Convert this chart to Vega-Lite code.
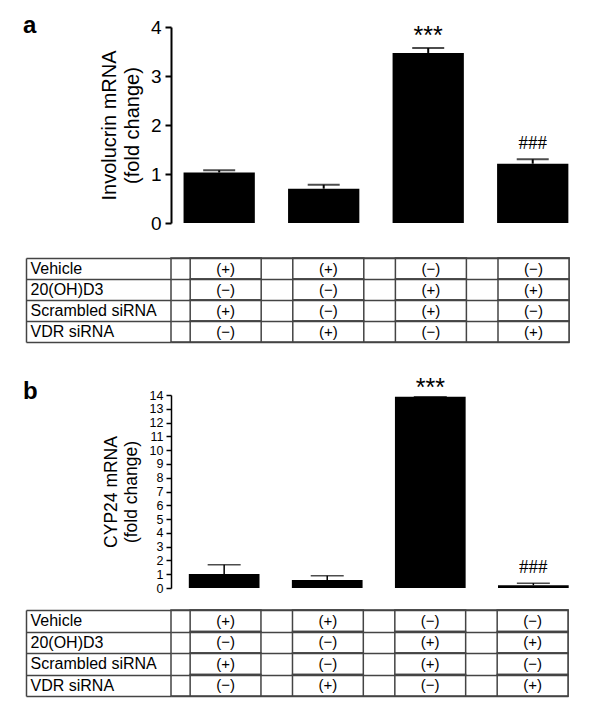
{
  "$schema": "https://vega.github.io/schema/vega-lite/v6.json",
  "padding": {"left": 23, "top": 14, "right": 5, "bottom": 5},
  "background": "white",
  "config": {
    "view": {"stroke": null},
    "font": "Liberation Sans",
    "text": {"color": "black"}
  },
  "datasets": {
    "a": [
      {"cond": "c1", "mean": 1.03, "hi": 1.075, "star": "", "hash": ""},
      {"cond": "c2", "mean": 0.70, "hi": 0.78, "star": "", "hash": ""},
      {"cond": "c3", "mean": 3.47, "hi": 3.57, "star": "***", "hash": ""},
      {"cond": "c4", "mean": 1.21, "hi": 1.30, "star": "", "hash": "###"}
    ],
    "b": [
      {"cond": "c1", "mean": 1.01, "hi": 1.69, "star": "", "hash": ""},
      {"cond": "c2", "mean": 0.58, "hi": 0.89, "star": "", "hash": ""},
      {"cond": "c3", "mean": 13.88, "hi": 13.88, "star": "***", "hash": ""},
      {"cond": "c4", "mean": 0.2, "hi": 0.35, "star": "", "hash": "###"}
    ],
    "tbl": [
      {"row": "Vehicle", "cond": "c1", "val": "(+)"},
      {"row": "Vehicle", "cond": "c2", "val": "(+)"},
      {"row": "Vehicle", "cond": "c3", "val": "(−)"},
      {"row": "Vehicle", "cond": "c4", "val": "(−)"},
      {"row": "20(OH)D3", "cond": "c1", "val": "(−)"},
      {"row": "20(OH)D3", "cond": "c2", "val": "(−)"},
      {"row": "20(OH)D3", "cond": "c3", "val": "(+)"},
      {"row": "20(OH)D3", "cond": "c4", "val": "(+)"},
      {"row": "Scrambled siRNA", "cond": "c1", "val": "(+)"},
      {"row": "Scrambled siRNA", "cond": "c2", "val": "(−)"},
      {"row": "Scrambled siRNA", "cond": "c3", "val": "(+)"},
      {"row": "Scrambled siRNA", "cond": "c4", "val": "(−)"},
      {"row": "VDR siRNA", "cond": "c1", "val": "(−)"},
      {"row": "VDR siRNA", "cond": "c2", "val": "(+)"},
      {"row": "VDR siRNA", "cond": "c3", "val": "(−)"},
      {"row": "VDR siRNA", "cond": "c4", "val": "(+)"}
    ]
  },
  "spacing": 27,
  "vconcat": [
    {
      "spacing": 16,
      "vconcat": [
        {
          "width": 417,
          "height": 196,
          "title": {"text": "a", "anchor": "start", "align": "left", "frame": "group", "dx": -148, "dy": 27, "offset": -12, "baseline": "alphabetic", "font": "Liberation Sans", "fontSize": 24, "fontWeight": "bold", "color": "black"},
          "data": {"name": "a"},
          "encoding": {
            "x": {"field": "cond", "type": "nominal", "scale": {"paddingInner": 0.318, "paddingOuter": 0.154, "align": 0.39}, "axis": null}
          },
          "layer": [
            {
              "mark": {"type": "bar", "color": "black"},
              "encoding": {
                "y": {"field": "mean", "type": "quantitative", "scale": {"domain": [0, 4], "nice": false},
                  "axis": {"title": ["Involucrin mRNA", "(fold change)"], "titleFont": "Liberation Sans", "titleFontSize": 20, "titleFontWeight": "normal", "titleColor": "black", "titleLineHeight": 23, "titlePadding": 8,
                    "values": [0, 1, 2, 3, 4], "labelOverlap": false, "labelSeparation": -30, "labelFont": "Liberation Sans", "labelFontSize": 19, "labelColor": "black", "labelPadding": 4,
                    "tickSize": 6, "tickWidth": 2, "tickColor": "black", "domainWidth": 2, "domainColor": "black", "grid": false}}
              }
            },
            {
              "mark": {"type": "rule", "color": "black", "strokeWidth": 2},
              "encoding": {"y": {"field": "mean", "type": "quantitative"}, "y2": {"field": "hi"}}
            },
            {
              "mark": {"type": "tick", "color": "black", "size": 32, "thickness": 2},
              "encoding": {"y": {"field": "hi", "type": "quantitative"}}
            },
            {
              "mark": {"type": "text", "font": "Liberation Sans", "fontSize": 25, "baseline": "alphabetic", "dy": -4},
              "encoding": {"y": {"field": "hi", "type": "quantitative"}, "text": {"field": "star"}}
            },
            {
              "mark": {"type": "text", "font": "Liberation Serif", "fontSize": 19, "baseline": "alphabetic", "dy": -10},
              "encoding": {"y": {"field": "hi", "type": "quantitative"}, "text": {"field": "hash"}}
            },
            {
              "mark": {"type": "rule", "color": "black", "strokeWidth": 2},
              "encoding": {"y": {"datum": 0}}
            }
          ]
        },
        {
          "width": 398,
          "height": 84,
          "view": {"stroke": "#444", "strokeWidth": 1.5},
          "data": {"name": "tbl"},
          "encoding": {
            "x": {"field": "cond", "type": "nominal", "scale": {"paddingInner": 0.308, "paddingOuter": 0.0935, "align": 1}, "axis": null},
            "y": {"field": "row", "type": "nominal", "sort": ["Vehicle", "20(OH)D3", "Scrambled siRNA", "VDR siRNA"],
              "scale": {"paddingInner": 0, "paddingOuter": 0},
              "axis": {"title": null, "orient": "left", "offset": 145, "tickSize": -145, "tickBand": "extent", "tickColor": "#444", "tickWidth": 1.5,
                "domainColor": "#444", "domainWidth": 1.5, "grid": true, "gridColor": "#444", "gridWidth": 1.5, "gridOpacity": 1,
                "labelAlign": "left", "labelPadding": 141, "labelFont": "Liberation Sans", "labelFontSize": 16, "labelColor": "black", "labelLimit": 0}}
          },
          "layer": [
            {"mark": {"type": "rect", "fill": "white", "stroke": "#444", "strokeWidth": 1.5}},
            {"mark": {"type": "text", "font": "Liberation Sans", "fontSize": 15, "color": "black"}, "encoding": {"text": {"field": "val"}}}
          ]
        }
      ]
    },
    {
      "spacing": 6,
      "vconcat": [
        {
          "width": 417,
          "height": 193,
          "title": {"text": "b", "anchor": "start", "align": "left", "frame": "group", "dx": -148, "offset": -51, "baseline": "alphabetic", "font": "Liberation Sans", "fontSize": 24, "fontWeight": "bold", "color": "black"},
          "data": {"name": "b"},
          "encoding": {
            "x": {"field": "cond", "type": "nominal", "scale": {"paddingInner": 0.314, "paddingOuter": 0.18, "align": 0.48}, "axis": null}
          },
          "layer": [
            {
              "mark": {"type": "bar", "color": "black"},
              "encoding": {
                "y": {"field": "mean", "type": "quantitative", "scale": {"domain": [0, 14], "nice": false},
                  "axis": {"title": ["CYP24 mRNA", "(fold change)"], "titleFont": "Liberation Sans", "titleFontSize": 17.5, "titleFontWeight": "normal", "titleColor": "black", "titleLineHeight": 20, "titlePadding": 9,
                    "values": [0, 1, 2, 3, 4, 5, 6, 7, 8, 9, 10, 11, 12, 13, 14], "tickCount": 15, "labelOverlap": false, "labelSeparation": -30, "labelFont": "Liberation Sans", "labelFontSize": 12.5, "labelColor": "black", "labelPadding": 3,
                    "tickSize": 5, "tickWidth": 1.5, "tickColor": "black", "domainWidth": 1.5, "domainColor": "black", "grid": false}}
              }
            },
            {
              "mark": {"type": "rule", "color": "black", "strokeWidth": 1.5},
              "encoding": {"y": {"field": "mean", "type": "quantitative"}, "y2": {"field": "hi"}}
            },
            {
              "mark": {"type": "tick", "color": "black", "size": 33, "thickness": 1.5},
              "encoding": {"y": {"field": "hi", "type": "quantitative"}}
            },
            {
              "mark": {"type": "text", "font": "Liberation Sans", "fontSize": 25, "baseline": "alphabetic", "dy": -1},
              "encoding": {"y": {"field": "hi", "type": "quantitative"}, "text": {"field": "star"}}
            },
            {
              "mark": {"type": "text", "font": "Liberation Serif", "fontSize": 19, "baseline": "alphabetic", "dy": -10},
              "encoding": {"y": {"field": "hi", "type": "quantitative"}, "text": {"field": "hash"}}
            },
            {
              "mark": {"type": "rule", "color": "black", "strokeWidth": 1.5},
              "encoding": {"y": {"datum": 0}}
            }
          ]
        },
        {
          "width": 397,
          "height": 86,
          "view": {"stroke": "#444", "strokeWidth": 1.5},
          "data": {"name": "tbl"},
          "encoding": {
            "x": {"field": "cond", "type": "nominal", "scale": {"paddingInner": 0.308, "paddingOuter": 0.0935, "align": 1}, "axis": null},
            "y": {"field": "row", "type": "nominal", "sort": ["Vehicle", "20(OH)D3", "Scrambled siRNA", "VDR siRNA"],
              "scale": {"paddingInner": 0, "paddingOuter": 0},
              "axis": {"title": null, "orient": "left", "offset": 145, "tickSize": -145, "tickBand": "extent", "tickColor": "#444", "tickWidth": 1.5,
                "domainColor": "#444", "domainWidth": 1.5, "grid": true, "gridColor": "#444", "gridWidth": 1.5, "gridOpacity": 1,
                "labelAlign": "left", "labelPadding": 141, "labelFont": "Liberation Sans", "labelFontSize": 16, "labelColor": "black", "labelLimit": 0}}
          },
          "layer": [
            {"mark": {"type": "rect", "fill": "white", "stroke": "#444", "strokeWidth": 1.5}},
            {"mark": {"type": "text", "font": "Liberation Sans", "fontSize": 15, "color": "black"}, "encoding": {"text": {"field": "val"}}}
          ]
        }
      ]
    }
  ]
}
